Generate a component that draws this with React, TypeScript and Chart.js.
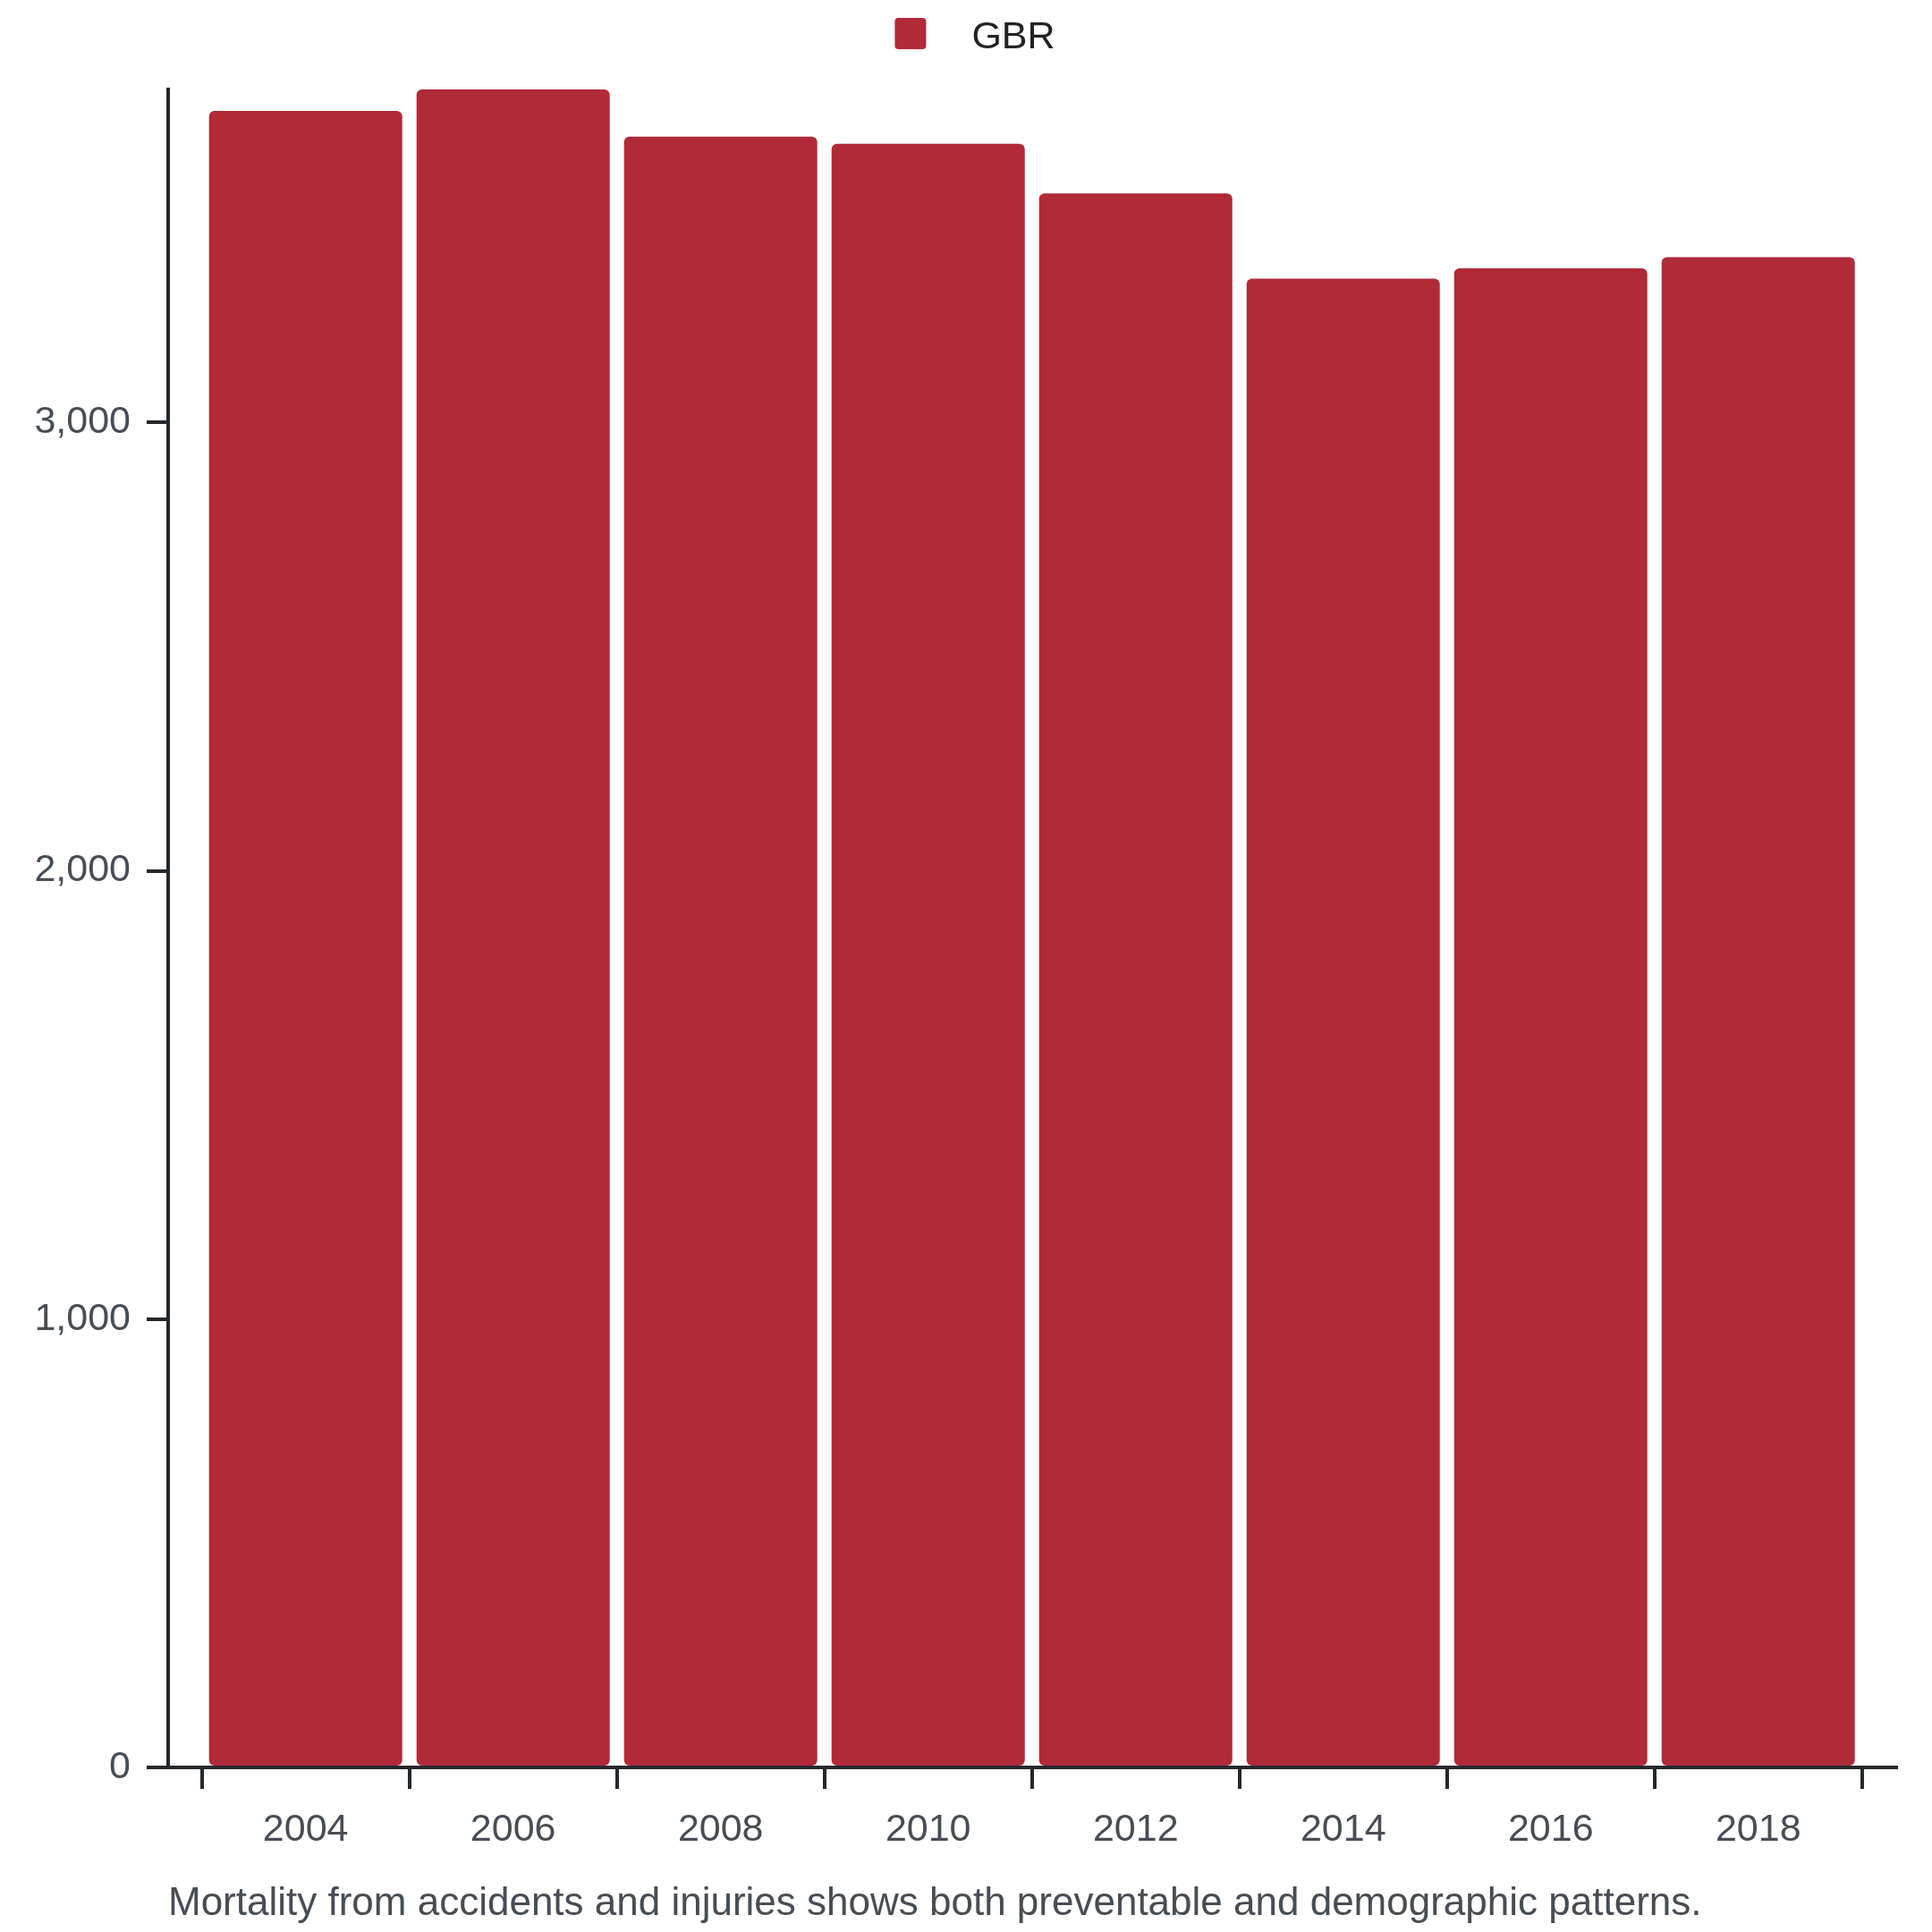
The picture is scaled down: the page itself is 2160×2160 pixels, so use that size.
import { useEffect, useRef } from "react";
import { Chart, registerables } from "chart.js";

Chart.register(...registerables);

const years = [2004, 2006, 2008, 2010, 2012, 2014, 2016, 2018];
const gbr = [3695, 3743, 3638, 3622, 3511, 3321, 3344, 3369];
const yTicks = [0, 1000, 2000, 3000];
const seriesName = "GBR";
const caption =
  "Mortality from accidents and injuries shows both preventable and demographic patterns.";

const BAR = "#b02a38";
const AXIS = "#24282c";
const TEXT = "#474d55";
const FONT = "'Liberation Sans', Arial, sans-serif";

// legend on top and caption under the x axis
const overlay = {
  id: "overlay",
  afterDraw(chart: Chart) {
    const { ctx, chartArea, width } = chart;
    const ds = chart.data.datasets[0] as any;
    ctx.save();
    ctx.font = `43px ${FONT}`;
    ctx.textBaseline = "alphabetic";
    const tw = ctx.measureText(ds.label).width;
    const box = 35;
    const gap = 51;
    const x0 = width / 2 + 10 - (box + gap + tw) / 2;
    ctx.fillStyle = ds.backgroundColor;
    ctx.beginPath();
    ctx.roundRect(x0, 20, box, box, 4);
    ctx.fill();
    ctx.fillStyle = "#222";
    ctx.fillText(ds.label, x0 + box + gap, 54);

    ctx.font = `44px ${FONT}`;
    ctx.fillStyle = TEXT;
    ctx.fillText(caption, chartArea.left, chartArea.bottom + 165);
    ctx.restore();
  },
};

export default function App() {
  const canvasRef = useRef<HTMLCanvasElement>(null);

  useEffect(() => {
    const canvas = canvasRef.current;
    if (!canvas) return;

    Chart.defaults.font.family = FONT;
    Chart.defaults.font.size = 43;
    Chart.defaults.color = TEXT;

    const chart = new Chart(canvas, {
      type: "bar",
      data: {
        datasets: [
          {
            label: seriesName,
            data: years.map((y, i) => ({ x: y, y: gbr[i] })),
            backgroundColor: BAR,
            borderRadius: 6,
            borderSkipped: false,
            categoryPercentage: 1,
            barPercentage: 0.931,
          },
        ],
      },
      options: {
        responsive: true,
        maintainAspectRatio: false,
        animation: false,
        layout: { padding: { top: 100, right: 40, left: 0, bottom: 0 } },
        plugins: {
          legend: { display: false },
          tooltip: { enabled: false },
        },
        scales: {
          x: {
            type: "linear",
            min: years[0] - 1.325,
            max: years[years.length - 1] + 1.33,
            offset: false,
            afterBuildTicks: (s: any) => {
              s.ticks = years.map((v) => ({ value: v }));
            },
            afterFit: (s: any) => {
              s.height = 184;
            },
            grid: {
              offset: true,
              drawOnChartArea: false,
              drawTicks: true,
              tickLength: 24,
              lineWidth: 4,
              color: AXIS,
            },
            border: { display: true, color: AXIS, width: 4 },
            ticks: {
              padding: 20,
              maxRotation: 0,
              autoSkip: false,
              callback: (v: any) => String(v),
            },
          },
          y: {
            min: 0,
            max: Math.max(...gbr),
            afterBuildTicks: (s: any) => {
              s.ticks = yTicks.map((v) => ({ value: v }));
            },
            afterFit: (s: any) => {
              s.width = 188;
            },
            grid: {
              drawOnChartArea: false,
              drawTicks: true,
              tickLength: 24,
              lineWidth: 4,
              color: AXIS,
            },
            border: { display: true, color: AXIS, width: 4 },
            ticks: {
              padding: 18,
              callback: (v: any) => Number(v).toLocaleString("en-US"),
            },
          },
        },
      },
      plugins: [overlay],
    });

    return () => chart.destroy();
  }, []);

  return (
    <div style={{ position: "absolute", left: 0, top: 0, width: 2160, height: 2160 }}>
      <canvas ref={canvasRef} />
    </div>
  );
}
